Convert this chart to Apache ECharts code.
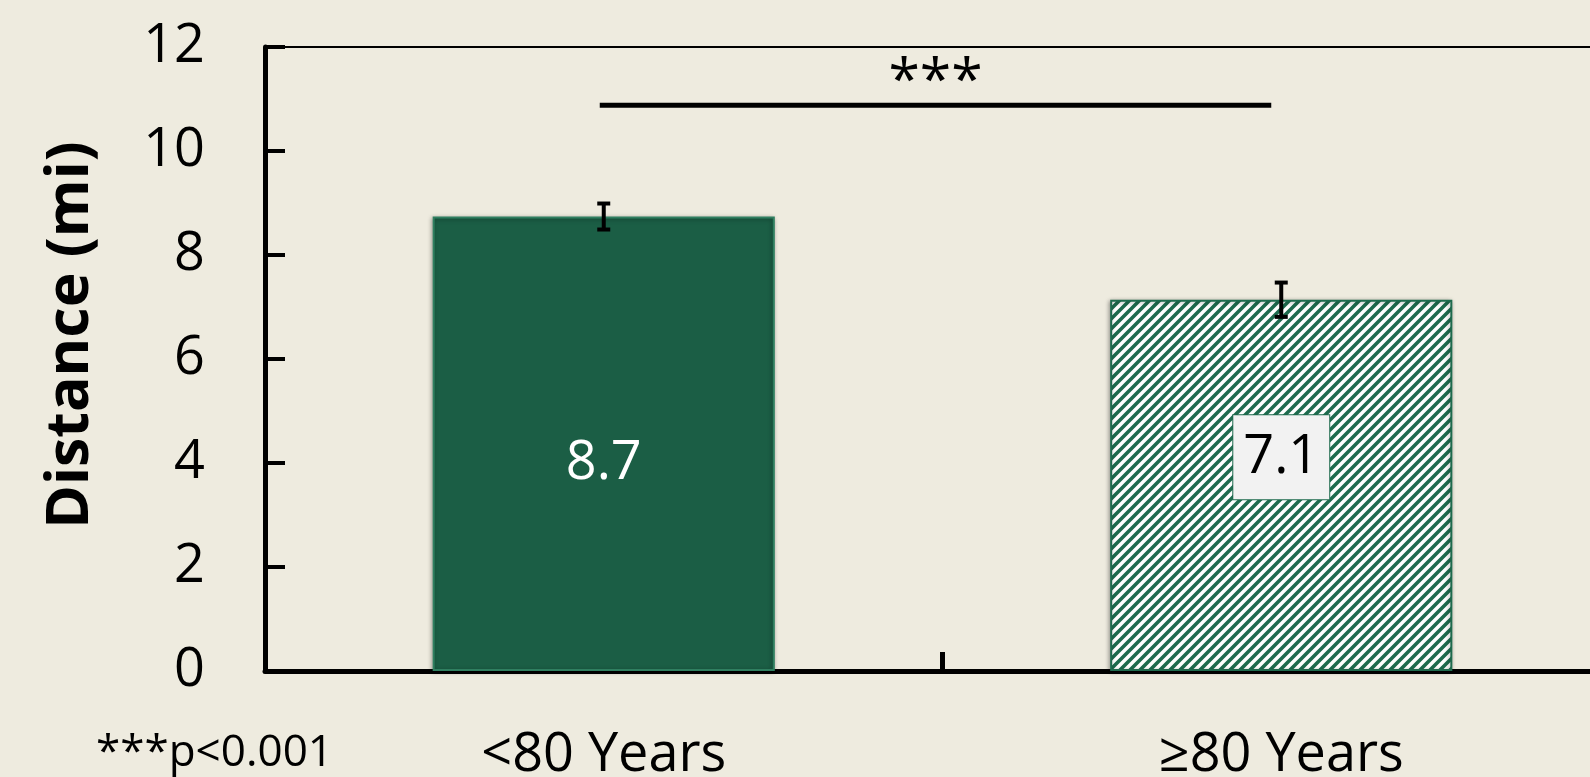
<!DOCTYPE html>
<html>
<head>
<meta charset="utf-8">
<script src="https://cdn.jsdelivr.net/npm/echarts@6/dist/echarts.min.js"></script>
<style>
html,body{margin:0;padding:0;background:#eeebdf;overflow:hidden;}
#wrap{position:relative;width:1590px;height:777px;overflow:hidden;}
#c{position:absolute;left:0;top:0;width:1622px;height:777px;}
</style>
</head>
<body>
<div id="wrap"><div id="c"></div></div>
<script>
// ---- data ----
var categories = ['<80 Years', '≥80 Years'];
var distances = [8.74, 7.14];
var errors = [0.25, 0.33];
var yTicks = [0, 2, 4, 6, 8, 10, 12];
var sigBracket = [[0, 1, 10.88]];   // from category, to category, height
var sigLabel = '***';
var footnote = '***p<0.001';
var yTitle = 'Distance (mi)';

var FONT = '"Open Sans", "Liberation Sans", sans-serif';
var GREEN = '#1b5e45';
var STRIPE = '#1e6b4e';

// hatch pattern tile
function makeHatch(n) {
  var cv = document.createElement('canvas');
  cv.width = n; cv.height = n;
  var ctx = cv.getContext('2d');
  ctx.fillStyle = '#ffffff';
  ctx.fillRect(0, 0, n, n);
  ctx.strokeStyle = STRIPE;
  ctx.lineWidth = 3.6;
  ctx.beginPath();
  ctx.moveTo(-1, n + 1); ctx.lineTo(n + 1, -1);
  ctx.moveTo(-n / 2, n / 2); ctx.lineTo(n / 2, -n / 2);
  ctx.moveTo(n / 2, n * 1.5); ctx.lineTo(n * 1.5, n / 2);
  ctx.stroke();
  return cv;
}
var hatch = makeHatch(10);

var barData = distances.map(function (v, i) {
  if (i === 0) {
    return {
      value: v,
      itemStyle: { color: GREEN, borderColor: '#2f7f60', borderWidth: 2,
        shadowBlur: 4, shadowColor: 'rgba(0,0,0,0.35)', shadowOffsetX: -1, shadowOffsetY: 1 },
      label: { show: true, position: 'inside', offset: [0, 20], color: '#ffffff',
        fontSize: 54, fontFamily: FONT,
        formatter: function (p) { return p.value.toFixed(1); } }
    };
  }
  return {
    value: v,
    itemStyle: { color: { image: hatch, repeat: 'repeat' }, borderColor: STRIPE, borderWidth: 2,
      shadowBlur: 4, shadowColor: 'rgba(0,0,0,0.35)', shadowOffsetX: -1, shadowOffsetY: 1 },
    label: { show: true, position: 'inside', offset: [0, -28], color: '#000000',
      fontSize: 54, fontFamily: FONT, lineHeight: 56,
      backgroundColor: '#f2f2f2', borderColor: STRIPE, borderWidth: 1, padding: [14, 10],
      formatter: function (p) { return p.value.toFixed(1); } }
  };
});

var errData = distances.map(function (v, i) { return [i, v - errors[i], v + errors[i]]; });

var chart = echarts.init(document.getElementById('c'), null, { renderer: 'canvas' });
chart.setOption({
  backgroundColor: '#eeebdf',
  animation: false,
  grid: { left: 265, right: 2, top: 47, bottom: 106, show: true, outerBoundsMode: 'none',
    containLabel: false,
    borderColor: '#000', borderWidth: 2, backgroundColor: 'transparent' },
  xAxis: {
    type: 'category',
    data: categories,
    boundaryGap: true,
    axisLine: { lineStyle: { color: '#000', width: 5 } },
    axisTick: { show: true, inside: true, length: 19, lineStyle: { color: '#000', width: 5 } },
    axisLabel: { color: '#000', fontSize: 54, fontFamily: FONT, margin: 58 }
  },
  yAxis: {
    type: 'value',
    min: yTicks[0], max: yTicks[yTicks.length - 1], interval: yTicks[1] - yTicks[0],
    splitLine: { show: false },
    axisLine: { show: true, lineStyle: { color: '#000', width: 5 } },
    axisTick: { show: true, inside: true, length: 20, lineStyle: { color: '#000', width: 4 } },
    axisLabel: { color: '#000', fontSize: 54, fontFamily: FONT, margin: 60 }
  },
  series: [
    {
      type: 'bar',
      data: barData,
      barWidth: '50.5%',
      z: 2
    },
    {
      type: 'custom',
      data: errData,
      z: 5,
      renderItem: function (params, api) {
        var lo = api.coord([api.value(0), api.value(1)]);
        var hi = api.coord([api.value(0), api.value(2)]);
        var x = lo[0], hw = 6.5;
        var st = { stroke: '#000', lineWidth: 4 };
        return { type: 'group', children: [
          { type: 'line', shape: { x1: x, y1: lo[1], x2: x, y2: hi[1] }, style: st },
          { type: 'line', shape: { x1: x - hw, y1: hi[1], x2: x + hw, y2: hi[1] }, style: st },
          { type: 'line', shape: { x1: x - hw, y1: lo[1], x2: x + hw, y2: lo[1] }, style: st }
        ] };
      }
    },
    {
      type: 'custom',
      data: sigBracket,
      z: 5,
      renderItem: function (params, api) {
        var a = api.coord([api.value(0), api.value(2)]);
        var b = api.coord([api.value(1), api.value(2)]);
        var x1 = a[0] - 4, x2 = b[0] - 10;
        return { type: 'group', children: [
          { type: 'line', shape: { x1: x1, y1: a[1], x2: x2, y2: b[1] },
            style: { stroke: '#000', lineWidth: 5 } },
          { type: 'text', style: { text: sigLabel, x: (x1 + x2) / 2, y: a[1] - 22,
            align: 'center', verticalAlign: 'middle', fill: '#000',
            fontSize: 57, fontFamily: FONT } }
        ] };
      }
    }
  ],
  graphic: [
    { type: 'text', x: 71, y: 335, rotation: Math.PI / 2,
      style: { text: yTitle, fill: '#000', fontSize: 59, fontWeight: 'bold', fontFamily: FONT,
        align: 'center', verticalAlign: 'middle' } },
    { type: 'text', left: 96, top: 731,
      style: { text: footnote, fill: '#000', fontSize: 44, fontFamily: FONT } }
  ]
});
</script>
</body>
</html>
